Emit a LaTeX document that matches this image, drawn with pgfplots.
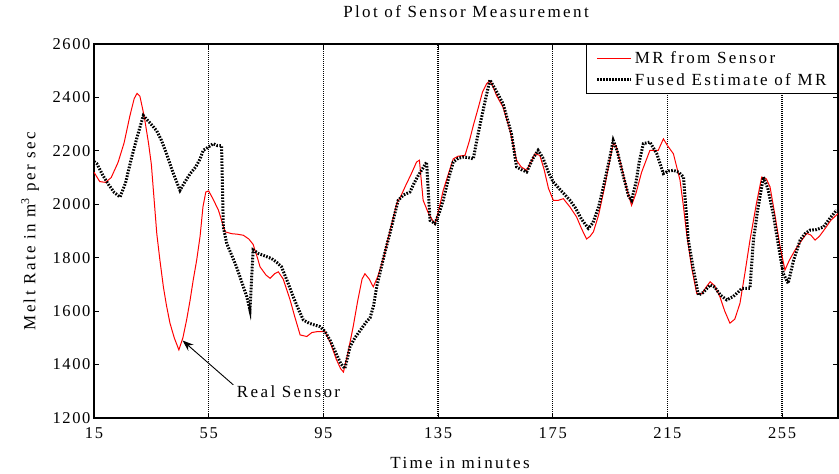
\documentclass[border=0pt]{standalone}
\usepackage{pgfplots}
\pgfplotsset{compat=1.18}
\usepackage{fontspec}
\setmainfont{Liberation Serif}[LetterSpace=10]
\newfontfamily\widefont{Liberation Serif}[LetterSpace=14]
\usetikzlibrary{arrows.meta}
\newcommand\myfont{\fontsize{16.5}{19}\selectfont}
\newcommand\bigfont{\widefont\fontsize{17}{21}\selectfont}
\begin{document}
\begin{tikzpicture}
\begin{axis}[
  scale only axis, width=744pt, height=374pt,
  xmin=15, xmax=274.5, ymin=1200, ymax=2600,
  xtick={15,55,95,135,175,215,255},
  ytick={1200,1400,...,2600},
  /pgf/number format/assume math mode=true,
  /pgf/number format/1000 sep={},
  tick label style={font=\myfont},
  xticklabel style={yshift=-6pt},
  label style={font=\bigfont},
  title style={font=\bigfont, at={(axis description cs:0.5,1.0535)}, anchor=base},
  title={Plot of Sensor Measurement},
  xlabel={Time in minutes},
  ylabel={Melt Rate in m\textsuperscript{3} per sec},
  xlabel style={at={(axis description cs:0.492,-0.12)}, anchor=center},
  ylabel style={at={(axis description cs:-0.086,0.5)}, anchor=center},
  axis line style={line width=1.3pt},
  tick style={black, line width=1pt},
  major tick length=5pt,
  tick align=inside,
  xmajorgrids,
  grid style={black, line width=1.5pt, dash pattern=on 1pt off 1pt},
  legend style={at={(1,1)}, anchor=north east, draw=black, line width=1.3pt,
    font=\bigfont, inner xsep=9pt, inner ysep=5pt, row sep=4pt, fill=white},
  legend cell align=left,
  legend image code/.code={\draw[#1] (0pt,0pt) -- (34pt,0pt);},
]
\addplot[red, line width=1pt] coordinates {
(15,2120)(17,2085)(19,2082)(21,2100)(23.4,2157)(25.5,2230)(27.5,2330)(29,2395)(30,2415)(31,2405)
(32.5,2330)(34,2230)(35,2150)(36.9,1890)(38,1790)(39.2,1691)(40.3,1620)(41.5,1555)(43,1500)(44.6,1455)
(46,1500)(47.3,1567)(48.5,1640)(49.6,1716)(50.8,1790)(52,1880)(53,1990)(54,2046)(55,2050)(56.5,2020)
(58.4,1978)(59.5,1940)(60.7,1897)(63,1890)(65,1888)(67.1,1884)(69,1870)(70.5,1850)(72,1800)(72.9,1766)
(75,1735)(76.4,1723)(78,1740)(79.3,1747)(81,1720)(83.4,1642)(85,1580)(86.9,1511)(89.2,1505)(91,1520)
(92.7,1523)(95.6,1523)(97.5,1480)(99.5,1420)(101,1385)(102,1372)(103.5,1440)(105.4,1542)(107,1640)(108.5,1720)
(109.5,1740)(111,1720)(112.4,1691)(114,1730)(116,1800)(118,1890)(120.6,2003)(122,2030)(124,2077)(125.5,2110)
(127.5,2158)(128.5,2165)(129.8,2015)(131.5,1970)(133.9,1925)(135.5,1990)(136.8,2052)(138.5,2110)(140.3,2170)(142,2180)
(144.4,2183)(146,2240)(147.3,2295)(149,2360)(150.5,2420)(152,2452)(153.1,2462)(154.2,2440)(155.4,2407)(157.7,2363)
(160.1,2276)(162.4,2164)(164,2140)(165.9,2127)(167.5,2160)(168.8,2189)(170.5,2183)(172,2130)(173.5,2060)(175.2,2015)
(177,2015)(178.7,2021)(181,1990)(183.3,1953)(185,1910)(186.8,1870)(188,1880)(189.2,1897)(191,1960)(193,2060)
(195,2170)(196.1,2227)(197,2220)(199,2140)(201,2050)(202.5,1996)(204,2040)(206,2120)(208.9,2202)(211.8,2202)
(213.6,2245)(215,2220)(217.1,2189)(219.4,2090)(220.5,2000)(221.7,1891)(223.5,1760)(225.2,1667)(227,1665)(228.5,1690)
(229.9,1710)(231.5,1695)(233.3,1654)(235,1600)(236.8,1555)(238.5,1570)(240.3,1629)(242,1740)(243.8,1866)(246,2000)
(247.9,2102)(249.5,2095)(250.8,2065)(252.5,1960)(254.3,1841)(256,1754)(257.5,1790)(259.5,1828)(261.5,1860)(263.6,1891)
(265,1885)(266.5,1866)(268,1880)(270,1909)(272,1940)(274.5,1965)
};
\addlegendentry{MR from Sensor}
\addplot[black, line width=3pt, dash pattern=on 1.6pt off 1.4pt] coordinates {
(15,2160)(16,2152)(18,2110)(20,2075)(22,2045)(24.1,2027)(26,2080)(28,2170)(30,2250)(32.2,2332)
(34.5,2305)(36.8,2276)(38.5,2240)(40.3,2189)(42.5,2120)(45,2052)(46.5,2080)(48.5,2114)(50.5,2140)(52,2170)
(53.1,2202)(55,2215)(56.6,2227)(58,2220)(59.5,2220)(60.1,1915)(61.3,1853)(63,1810)(64.7,1766)(66.5,1710)
(68.3,1654)(69.4,1604)(70.5,1829)(72.5,1815)(75,1805)(76.9,1797)(78.5,1785)(80.4,1766)(82.5,1710)(84.5,1654)
(86.2,1610)(88,1567)(90,1555)(92,1548)(93.8,1542)(95.5,1525)(97.3,1492)(99.5,1440)(101,1405)(102.5,1385)
(104.3,1467)(106,1500)(108,1530)(110,1560)(111.3,1575)(112.5,1620)(113.6,1691)(116,1800)(118.2,1891)(121.1,2015)
(123,2035)(125.2,2046)(126.7,2080)(128.1,2108)(130,2140)(131,2158)(132.2,1940)(133.9,1928)(135.5,1970)(136.8,2015)
(138.5,2090)(140.3,2158)(142,2172)(143.8,2177)(145.5,2175)(147.3,2170)(148.7,2250)(150.2,2326)(151.7,2400)(153.1,2466)
(155.5,2420)(157.7,2376)(160.6,2264)(162.4,2140)(164,2130)(165.9,2121)(168,2170)(169.9,2202)(171.5,2175)(173.5,2120)
(175.2,2083)(178,2050)(181,2015)(183,1985)(185,1945)(187.4,1910)(189,1930)(191,1990)(193,2080)(195,2180)
(196.1,2239)(197.5,2200)(199.5,2110)(201.5,2030)(202.5,2015)(204,2080)(205.2,2160)(206.6,2227)(208.9,2233)(211.3,2189)
(212.5,2150)(213.6,2115)(215.5,2125)(217.1,2127)(219,2120)(220.6,2102)(222.3,1866)(224,1760)(225.8,1660)(227.5,1670)
(229.9,1698)(231.5,1690)(233.5,1660)(235.7,1642)(238,1655)(241,1685)(243.8,1685)(245,1866)(246.5,1980)(248.5,2102)
(250,2060)(251.9,1965)(253.5,1860)(255.4,1741)(257.1,1704)(259,1790)(261.3,1866)(263,1890)(264.7,1903)(267,1905)
(269.4,1915)(271.5,1945)(274,1978)
};
\addlegendentry{Fused Estimate of MR}
\draw[-{Stealth[length=11pt,width=8pt]}, line width=0.9pt] (axis cs:63.6,1324) -- (axis cs:45.9,1490);
\node[anchor=west, font=\bigfont, inner sep=0pt] at (axis cs:64.8,1300) {Real Sensor};
\end{axis}
\pgfresetboundingbox
\useasboundingbox (-94pt,-56pt) rectangle (745pt,418pt);
\end{tikzpicture}
\end{document}
